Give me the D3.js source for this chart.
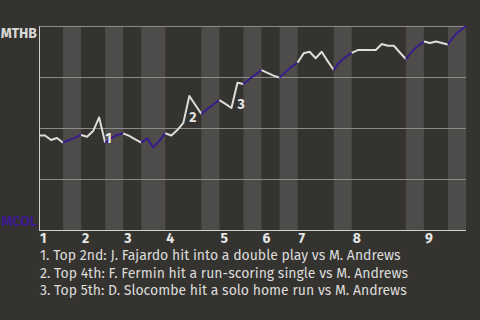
<!DOCTYPE html>
<html>
<head>
<meta charset="utf-8">
<script src="https://cdn.jsdelivr.net/npm/d3@7"></script>
<style>
  body { margin: 0; background: #353330; }
  svg { display: block; }
</style>
</head>
<body>
<div id="chart"></div>
<script>
// win probability for MTHB after each play (percent)
var winProb = [
  46.3, 46.3, 44.1, 45.1, 42.8, 44.1, 45.3, 46.6, 45.7, 48.5,
  55.2, 42.8, 45.1, 46.6, 47.4, 46.1, 44.4, 42.8, 45.0, 40.5,
  43.6, 47.4, 46.3, 49.0, 52.5, 65.7, 61.3, 56.9, 59.3, 61.5,
  63.7, 61.8, 59.8, 72.2, 71.6, 74.0, 76.2, 78.4, 77.0, 75.7,
  74.7, 77.5, 80.1, 82.0, 86.6, 87.4, 84.2, 87.4, 82.8, 78.4,
  82.4, 84.8, 86.8, 88.2, 88.2, 88.2, 88.2, 91.2, 90.3, 90.3,
  87.0, 83.8, 87.5, 90.2, 92.4, 91.7, 92.4, 91.7, 90.9, 95.1,
  97.8, 100
];

// play index where each half inning ends (top 1st, bottom 1st, ...)
var halfBreaks = [0, 4, 7, 11, 14, 17, 21, 27, 30, 34, 37, 40, 43, 49, 52, 61, 64, 68, 71];
var inningLabels = ['1', '2', '3', '4', '5', '6', '7', '8', '9'];

// key plays: play index and caption
var keyPlays = [11, 25, 33];
var keyNotes = [
  'Top 2nd: J. Fajardo hit into a double play vs M. Andrews',
  'Top 4th: F. Fermin hit a run-scoring single vs M. Andrews',
  'Top 5th: D. Slocombe hit a solo home run vs M. Andrews'
];

var teams = ['MTHB', 'MCOL'];
var gridVals = [25, 50, 75, 100];

var svgWidth = 480, svgHeight = 320;
var margin = { top: 26, right: 14, bottom: 90, left: 39 };
var width = svgWidth - margin.left - margin.right;
var height = svgHeight - margin.top - margin.bottom;

var topColor = '#dcdcda';
var botColor = '#3b1a8c';
var font = 'Fira Sans, Lato, DejaVu Sans, sans-serif';

var svg = d3.select('#chart').append('svg')
  .attr('width', svgWidth)
  .attr('height', svgHeight);

svg.append('rect')
  .attr('width', svgWidth).attr('height', svgHeight)
  .attr('fill', '#353330');

var g = svg.append('g')
  .attr('transform', `translate(${margin.left}, ${margin.top})`);

var x = d3.scaleLinear().domain([0, winProb.length - 1]).range([0, width]);
var y = d3.scaleLinear().domain([0, 100]).range([height, 0]);

// bottom-half bands
var halves = d3.range(halfBreaks.length - 1).map(i => ({
  i: i, from: halfBreaks[i], to: halfBreaks[i + 1], bottom: i % 2 === 1
}));

g.selectAll('rect.band')
  .data(halves.filter(h => h.bottom))
  .enter().append('rect')
  .attr('class', 'band')
  .attr('x', h => x(h.from))
  .attr('width', h => x(h.to) - x(h.from))
  .attr('y', 0)
  .attr('height', height)
  .attr('fill', '#4d4c4a');

// grid
g.selectAll('line.grid')
  .data(gridVals)
  .enter().append('line')
  .attr('x1', 0).attr('x2', width)
  .attr('y1', d => y(d) + 0.5).attr('y2', d => y(d) + 0.5)
  .attr('stroke', '#8c8b88')
  .attr('stroke-width', 1);

// axis lines
g.append('line')
  .attr('x1', 0.5).attr('x2', 0.5).attr('y1', 0).attr('y2', height + 1)
  .attr('stroke', '#cfcfcd');
g.append('line')
  .attr('x1', 0).attr('x2', width).attr('y1', height + 0.5).attr('y2', height + 0.5)
  .attr('stroke', '#cfcfcd');

// win probability line, one piece per half inning
var line = d3.line()
  .x(d => x(d.k))
  .y(d => y(d.v));

g.selectAll('path.wp')
  .data(halves)
  .enter().append('path')
  .attr('class', 'wp')
  .attr('d', h => line(d3.range(h.from, h.to + 1).map(k => ({ k: k, v: winProb[k] }))))
  .attr('fill', 'none')
  .attr('stroke', h => h.bottom ? botColor : topColor)
  .attr('stroke-width', 2)
  .attr('stroke-linejoin', 'round');

// key play numbers
g.selectAll('text.key')
  .data(keyPlays)
  .enter().append('text')
  .attr('class', 'key')
  .attr('x', k => x(k) + 0)
  .attr('y', k => winProb[k] < winProb[k - 1] ? y(winProb[k]) : y(winProb[k]) + 26)
  .attr('font-family', font)
  .attr('font-weight', 'bold')
  .attr('font-size', 14)
  .attr('fill', '#e6e6e4')
  .text((k, i) => i + 1);

// inning labels at top-half starts
g.selectAll('text.inning')
  .data(inningLabels)
  .enter().append('text')
  .attr('class', 'inning')
  .attr('x', (d, i) => x(halfBreaks[i * 2]) + 1)
  .attr('y', height + 13)
  .attr('font-family', font)
  .attr('font-weight', 'bold')
  .attr('font-size', 14)
  .attr('fill', '#e6e6e4')
  .text(d => d);

// team labels
svg.append('text')
  .attr('x', 37).attr('y', 38)
  .attr('text-anchor', 'end')
  .attr('font-family', font)
  .attr('font-weight', 'bold')
  .attr('font-size', 14)
  .attr('fill', '#d8d8d6')
  .text(teams[0]);

svg.append('text')
  .attr('x', 37).attr('y', 226)
  .attr('text-anchor', 'end')
  .attr('font-family', font)
  .attr('font-weight', 'bold')
  .attr('font-size', 14)
  .attr('fill', botColor)
  .text(teams[1]);

// captions
svg.selectAll('text.note')
  .data(keyNotes)
  .enter().append('text')
  .attr('class', 'note')
  .attr('x', 40)
  .attr('y', (d, i) => 260 + i * 17.7)
  .attr('font-family', font)
  .attr('font-size', 14)
  .attr('fill', '#dcdcda')
  .text((d, i) => `${i + 1}. ${d}`);
</script>
</body>
</html>
